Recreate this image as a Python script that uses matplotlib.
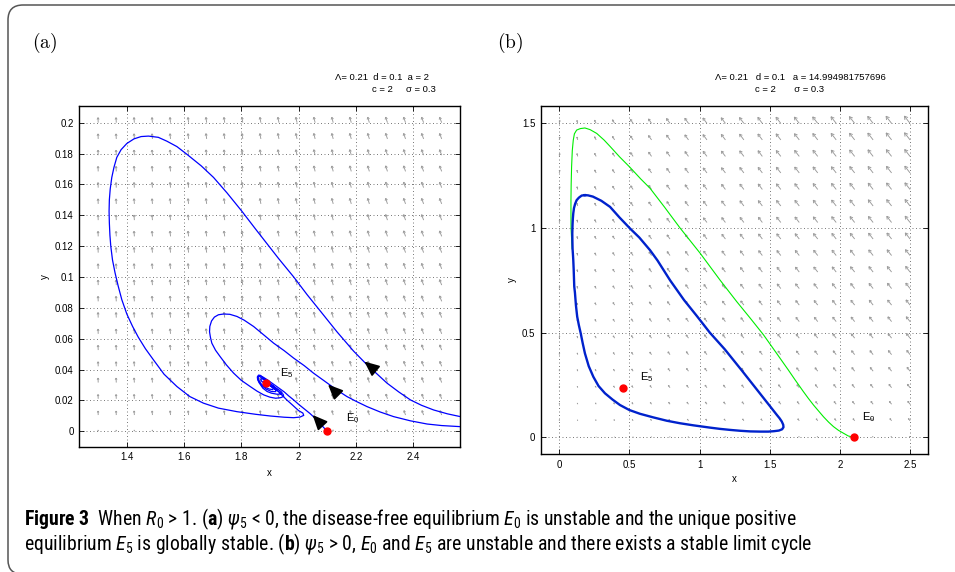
import numpy as np
import matplotlib
matplotlib.use('Agg')
import matplotlib.pyplot as plt
from matplotlib import font_manager
from matplotlib.path import Path
from matplotlib.patches import PathPatch
from matplotlib.collections import LineCollection
from matplotlib.transforms import IdentityTransform

# ---------------- data ----------------
# panel (a) trajectories
a_t1_x = [2.565, 2.520, 2.472, 2.430, 2.391, 2.350, 2.309, 2.275, 2.239, 2.192, 2.134, 2.080, 2.030, 1.983,
          1.930, 1.890, 1.850, 1.802, 1.750, 1.703, 1.660, 1.610, 1.575, 1.540, 1.510, 1.4755, 1.450, 1.425,
          1.400, 1.380, 1.365, 1.355, 1.3475, 1.342, 1.339, 1.338, 1.339, 1.341, 1.344, 1.350, 1.359, 1.370,
          1.3825, 1.400, 1.420, 1.440, 1.465, 1.493, 1.530, 1.575, 1.620, 1.668, 1.720, 1.785, 1.850, 1.901,
          1.950, 1.983, 2.005, 2.018, 2.015, 2.000, 1.980, 1.959, 1.935, 1.913, 1.895, 1.878, 1.867, 1.860,
          1.856, 1.857, 1.862, 1.875, 1.890, 1.905, 1.925, 1.940, 1.942, 1.930, 1.910, 1.895, 1.883, 1.872,
          1.868, 1.872, 1.882, 1.887]
a_t1_y = [0.0095, 0.0113, 0.0138, 0.0168, 0.0203, 0.0255, 0.0312, 0.0370, 0.0431, 0.0520, 0.0645, 0.0770,
          0.0885, 0.1000, 0.1120, 0.1215, 0.1310, 0.1426, 0.1545, 0.1645, 0.1720, 0.1795, 0.1845, 0.1880,
          0.1905, 0.1913, 0.1910, 0.1895, 0.1865, 0.1825, 0.1775, 0.1710, 0.1645, 0.1570, 0.1500, 0.1425,
          0.1350, 0.1270, 0.1199, 0.1110, 0.1026, 0.0940, 0.0853, 0.0760, 0.0680, 0.0610, 0.0535, 0.0463,
          0.0370, 0.0290, 0.0225, 0.0182, 0.0150, 0.0127, 0.0110, 0.0099, 0.0091, 0.0088, 0.0092, 0.0103,
          0.0118, 0.0134, 0.0168, 0.0203, 0.0247, 0.0290, 0.0320, 0.0344, 0.0362, 0.0364, 0.0352, 0.0335,
          0.0315, 0.0280, 0.0258, 0.0247, 0.0240, 0.0242, 0.0252, 0.0270, 0.0295, 0.0318, 0.0333, 0.0342,
          0.0335, 0.0322, 0.0312, 0.0310]
a_t2_x = [2.565, 2.500, 2.449, 2.390, 2.332, 2.285, 2.239, 2.200, 2.169, 2.140, 2.117, 2.085, 2.052, 2.020,
          1.983, 1.950, 1.913, 1.880, 1.843, 1.810, 1.785, 1.760, 1.738, 1.720, 1.706, 1.696, 1.690, 1.689,
          1.692, 1.697, 1.710, 1.726, 1.748, 1.773, 1.800, 1.831, 1.855, 1.878, 1.900, 1.920, 1.938, 1.948,
          1.946, 1.935, 1.915, 1.890, 1.875, 1.863, 1.857, 1.857, 1.862, 1.872, 1.888, 1.905, 1.920, 1.922,
          1.910, 1.895, 1.882, 1.876, 1.878, 1.887]
a_t2_y = [0.0030, 0.0037, 0.0047, 0.0068, 0.0095, 0.0125, 0.0160, 0.0195, 0.0225, 0.0260, 0.0290, 0.0333,
          0.0377, 0.0425, 0.0474, 0.0522, 0.0571, 0.0622, 0.0679, 0.0720, 0.0744, 0.0758, 0.0760, 0.0755,
          0.0740, 0.0715, 0.0680, 0.0645, 0.0610, 0.0571, 0.0525, 0.0484, 0.0430, 0.0377, 0.0330, 0.0290,
          0.0260, 0.0236, 0.0221, 0.0214, 0.0218, 0.0226, 0.0240, 0.0252, 0.0275, 0.0312, 0.0340, 0.0357,
          0.0352, 0.0340, 0.0320, 0.0295, 0.0272, 0.0258, 0.0257, 0.0268, 0.0285, 0.0305, 0.0320, 0.0322,
          0.0313, 0.0310]
a_t3_x = [2.100, 2.080, 2.058, 2.040, 2.020, 2.000, 1.983, 1.965, 1.950, 1.935, 1.920, 1.905, 1.890, 1.875,
          1.865, 1.859, 1.860, 1.868, 1.880, 1.897, 1.910, 1.912, 1.903, 1.890, 1.882, 1.881, 1.887]
a_t3_y = [0.0000, 0.0040, 0.0084, 0.0115, 0.0145, 0.0175, 0.0203, 0.0230, 0.0255, 0.0275, 0.0295, 0.0315,
          0.0335, 0.0352, 0.0360, 0.0352, 0.0335, 0.0310, 0.0288, 0.0274, 0.0270, 0.0278, 0.0292, 0.0308,
          0.0318, 0.0313, 0.0310]
# direction arrows on panel (a): (tail_x, tail_y, tip_x, tip_y)
a_arrows = [(2.262, 0.0403, 2.230, 0.0452),
            (2.128, 0.0257, 2.103, 0.0303),
            (2.076, 0.0052, 2.049, 0.0106)]
a_E0 = (2.1, 0.0)
a_E5 = (1.887, 0.031)

# panel (b) curves
b_cycle_x = [0.183, 0.160, 0.140, 0.124, 0.113, 0.105, 0.100, 0.097, 0.095, 0.093, 0.094, 0.095, 0.098,
             0.100, 0.103, 0.107, 0.112, 0.119, 0.128, 0.140, 0.153, 0.167, 0.183, 0.210, 0.243, 0.280,
             0.326, 0.380, 0.433, 0.500, 0.576, 0.670, 0.766, 0.860, 0.956, 1.075, 1.146, 1.220, 1.289,
             1.360, 1.432, 1.490, 1.530, 1.565, 1.588, 1.598, 1.596, 1.586, 1.571, 1.551, 1.500, 1.400,
             1.300, 1.180, 1.073, 0.980, 0.889, 0.790, 0.700, 0.647, 0.570, 0.504, 0.430, 0.362, 0.300,
             0.240, 0.205, 0.183]
b_cycle_y = [1.157, 1.155, 1.145, 1.133, 1.115, 1.095, 1.070, 1.045, 1.020, 0.974, 0.930, 0.900, 0.870,
             0.847, 0.800, 0.720, 0.690, 0.630, 0.576, 0.535, 0.497, 0.450, 0.401, 0.340, 0.289, 0.245,
             0.210, 0.180, 0.154, 0.130, 0.112, 0.095, 0.079, 0.067, 0.057, 0.046, 0.040, 0.035, 0.031,
             0.028, 0.027, 0.027, 0.029, 0.032, 0.038, 0.048, 0.060, 0.075, 0.090, 0.1065, 0.150, 0.235,
             0.320, 0.420, 0.500, 0.580, 0.656, 0.750, 0.845, 0.894, 0.955, 0.998, 1.050, 1.101, 1.130,
             1.150, 1.156, 1.157]
b_green_x = [2.097, 2.060, 2.026, 1.990, 1.954, 1.920, 1.883, 1.850, 1.812, 1.775, 1.740, 1.681, 1.633,
             1.550, 1.455, 1.360, 1.265, 1.146, 1.0035, 0.950, 0.861, 0.750, 0.647, 0.580, 0.504, 0.430,
             0.362, 0.320, 0.267, 0.220, 0.183, 0.150, 0.124, 0.108, 0.100, 0.093, 0.088, 0.085, 0.0835,
             0.0835, 0.084, 0.088, 0.092]
b_green_y = [0.000, 0.006, 0.019, 0.033, 0.051, 0.072, 0.098, 0.124, 0.154, 0.186, 0.218, 0.274, 0.321,
             0.400, 0.490, 0.570, 0.648, 0.751, 0.880, 0.925, 1.000, 1.100, 1.190, 1.235, 1.290, 1.340,
             1.390, 1.420, 1.452, 1.470, 1.478, 1.475, 1.468, 1.450, 1.420, 1.370, 1.292, 1.210, 1.133,
             1.060, 1.000, 0.950, 0.900]
b_E0 = (2.1, 0.0)
b_E5 = (0.4565, 0.234)

# direction-field grids
a_field_x = np.linspace(1.3, 2.5, 20)
a_field_y = np.linspace(0.0, 0.2, 20)
a_field_ang = [92, 93, 94, 95, 96, 97, 98, 99, 100, 101, 102, 103, 104, 105, 106, 107, 108, 109, 110, 111]
a_field_len_cols = [5.0, 5.0, 5.1, 5.1, 5.2, 5.2, 5.3, 5.3, 5.4, 5.4, 5.5, 5.5, 5.6, 5.6, 5.7, 5.7, 5.8, 5.8, 5.8, 5.8]
a_field_len_rows = [0.25, 0.8, 0.85, 0.9, 0.9, 0.95, 0.95, 1, 1, 1, 1, 1, 1, 1, 1, 1, 1, 1, 1, 1]

b_field_x = np.linspace(0.0, 2.5, 20)
b_field_y = np.linspace(0.0, 1.5, 20)
b_field_ang = [80, 105, 118, 122, 124, 125, 126, 126, 127, 127, 127, 127, 128, 128, 128, 128, 128, 128, 128, 128]
b_field_len_cols = [3.0, 3.0, 3.6, 4.2, 4.8, 5.4, 6.0, 6.3, 6.7, 7.0, 7.3, 7.5, 7.8, 8.0, 8.2, 8.4, 8.6, 8.8, 9.0, 9.2]
b_field_len_rows = [0.10, 0.30, 0.40, 0.47, 0.53, 0.58, 0.63, 0.67, 0.71, 0.75, 0.78, 0.81, 0.84, 0.87,
                    0.89, 0.91, 0.93, 0.95, 0.98, 1.00]

a_xticks = [1.4, 1.6, 1.8, 2.0, 2.2, 2.4]
a_xticklabels = ['1.4', '1.6', '1.8', '2', '2.2', '2.4']
a_yticks = [0, 0.02, 0.04, 0.06, 0.08, 0.1, 0.12, 0.14, 0.16, 0.18, 0.2]
a_yticklabels = ['0', '0.02', '0.04', '0.06', '0.08', '0.1', '0.12', '0.14', '0.16', '0.18', '0.2']
b_xticks = [0, 0.5, 1, 1.5, 2, 2.5]
b_xticklabels = ['0', '0.5', '1', '1.5', '2', '2.5']
b_yticks = [0, 0.5, 1, 1.5]
b_yticklabels = ['0', '0.5', '1', '1.5']

# ---------------- fonts ----------------
def _wnum(w):
    if isinstance(w, str):
        return font_manager.weight_dict.get(w, 400)
    return int(w)

_wname = {100: 'ultralight', 200: 'light', 300: 'light', 400: 'normal', 500: 'medium'}


def pick_caption_font():
    entries = font_manager.fontManager.ttflist
    for cand in ('Liberation Sans Narrow', 'Open Sans Condensed', 'Roboto Condensed',
                 'Noto Sans Condensed'):
        ws = sorted({_wnum(f.weight) for f in entries if f.name == cand and f.style == 'normal'})
        ok = [w for w in ws if 250 <= w <= 500]
        if ok:
            w = min(ok, key=lambda v: abs(v - 400))
            return cand, w
    return 'Open Sans', 400


cap_font, cap_w = pick_caption_font()
cap_wname = _wname.get(cap_w, 'normal')
plt.rcParams['font.family'] = ['Liberation Sans', 'DejaVu Sans']
plt.rcParams['mathtext.fontset'] = 'custom'
plt.rcParams['mathtext.rm'] = f'{cap_font}:{cap_wname}'
plt.rcParams['mathtext.it'] = f'{cap_font}:italic:{cap_wname}'
plt.rcParams['mathtext.bf'] = f'{cap_font}:bold'

W, H = 955, 572
fig = plt.figure(figsize=(W / 100, H / 100), dpi=100)
fig.patch.set_facecolor('white')


def px_axes(l, t, r, b):
    return fig.add_axes([l / W, 1 - b / H, (r - l) / W, (b - t) / H])


def style_axes(ax, xt, xtl, yt, ytl):
    ax.set_xticks(xt)
    ax.set_xticklabels(xtl)
    ax.set_yticks(yt)
    ax.set_yticklabels(ytl)
    ax.tick_params(direction='in', length=3.5, width=0.6, top=True, right=True,
                   labelsize=7, pad=4, colors='black')
    ax.grid(True, color='#777777', linestyle=(0, (1, 2.6)), linewidth=0.7)
    ax.set_axisbelow(True)
    for s in ax.spines.values():
        s.set_linewidth(1.0)
        s.set_color('black')


def draw_field(ax, gx, gy, angs, lcols, lrows, color):
    segs = []
    for i, x in enumerate(gx):
        th = np.deg2rad(angs[i])
        d = np.array([np.cos(th), np.sin(th)])
        for j, y in enumerate(gy):
            L = lcols[i] * lrows[j]
            p0 = ax.transData.transform((x, y))
            p1 = p0 + L * d
            segs.append([p0, p1])
            hl = 0.42 * L
            for s in (1, -1):
                a = th + np.pi + s * np.deg2rad(30)
                p2 = p1 + hl * np.array([np.cos(a), np.sin(a)])
                segs.append([p1, p2])
    inv = ax.transData.inverted()
    segs = [inv.transform(np.array(sg)) for sg in segs]
    ax.add_collection(LineCollection(segs, colors=color, linewidths=0.65, zorder=1))


# ---------------- panel (a) ----------------
axa = px_axes(79.3, 105.7, 460, 446.7)
axa.set_xlim(1.234, 2.564)
axa.set_ylim(-0.01, 0.211)
style_axes(axa, a_xticks, a_xticklabels, a_yticks, a_yticklabels)
draw_field(axa, a_field_x, a_field_y, a_field_ang, a_field_len_cols, a_field_len_rows, '#999999')
for xs, ys in ((a_t1_x, a_t1_y), (a_t2_x, a_t2_y), (a_t3_x, a_t3_y)):
    axa.plot(xs, ys, color='#0000ff', lw=0.9, zorder=3, solid_joinstyle='round')
for (x0, y0, x1, y1) in a_arrows:
    axa.annotate('', xy=(x1, y1), xytext=(x0, y0),
                 arrowprops=dict(arrowstyle='-|>,head_length=0.9,head_width=0.4', color='black',
                                 lw=1.2, shrinkA=0, shrinkB=0), zorder=5)
axa.plot(*a_E0, 'o', color='red', ms=5, zorder=6)
axa.plot(*a_E5, 'o', color='red', ms=5, zorder=6)
axa.text(2.165, 0.0084, r'E$_{\mathregular{0}}$', fontsize=8, ha='left', va='center')
axa.text(1.935, 0.0377, r'E$_{\mathregular{5}}$', fontsize=8, ha='left', va='center')
axa.set_xlabel('x', fontsize=7)
axa.set_ylabel('y', fontsize=7)
axa.xaxis.set_label_coords(0.5, -0.062)
axa.yaxis.set_label_coords(-0.077, 0.5)

# ---------------- panel (b) ----------------
axb = px_axes(541, 106, 928.3, 454)
axb.set_xlim(-0.13, 2.63)
axb.set_ylim(-0.08, 1.583)
style_axes(axb, b_xticks, b_xticklabels, b_yticks, b_yticklabels)
draw_field(axb, b_field_x, b_field_y, b_field_ang, b_field_len_cols, b_field_len_rows, '#999999')
axb.plot(b_green_x, b_green_y, color='#00ee00', lw=0.8, zorder=3, solid_joinstyle='round')
axb.plot(b_cycle_x, b_cycle_y, color='#0022cc', lw=1.7, zorder=4, solid_joinstyle='round')
axb.plot(*b_E0, 'o', color='red', ms=5, zorder=6)
axb.plot(*b_E5, 'o', color='red', ms=5, zorder=6)
axb.text(2.16, 0.098, r'E$_{\mathregular{0}}$', fontsize=8, ha='left', va='center')
axb.text(0.575, 0.287, r'E$_{\mathregular{5}}$', fontsize=8, ha='left', va='center')
axb.set_xlabel('x', fontsize=7)
axb.set_ylabel('y', fontsize=7)
axb.xaxis.set_label_coords(0.5, -0.058)
axb.yaxis.set_label_coords(-0.062, 0.5)

# ---------------- texts ----------------
def ftext(px, py, s, **kw):
    return fig.text(px / W, 1 - py / H, s, **kw)

ftext(32, 43, r'$\mathrm{(a)}$', fontsize=14, math_fontfamily='cm', va='center', ha='left')
ftext(497, 43, r'$\mathrm{(b)}$', fontsize=14, math_fontfamily='cm', va='center', ha='left')
ftext(335, 78, 'Λ= 0.21  d = 0.1  a = 2', fontsize=6.8, va='center', ha='left')
ftext(372, 90, 'c = 2     σ = 0.3', fontsize=6.8, va='center', ha='left')
ftext(715, 78, 'Λ= 0.21   d = 0.1   a = 14.994981757696', fontsize=6.8, va='center', ha='left')
ftext(755, 90, 'c = 2       σ = 0.3', fontsize=6.8, va='center', ha='left')

cap1 = (r'$\mathbf{Figure\ 3}$  When $R_0$ > 1. ($\mathbf{a}$) $\psi_5$ < 0, the disease-free '
        r'equilibrium $E_0$ is unstable and the unique positive')
cap2 = (r'equilibrium $E_5$ is globally stable. ($\mathbf{b}$) $\psi_5$ > 0, $E_0$ and $E_5$ are '
        r'unstable and there exists a stable limit cycle')
capkw = dict(family=cap_font, fontweight=cap_w, math_fontfamily='custom', ha='left')
t1 = ftext(24, 525, cap1, fontsize=12.0, va='baseline', **capkw)
t2 = ftext(24, 550, cap2, fontsize=12.0, va='baseline', **capkw)
# fit first caption line to the reference line length (24 px -> 812 px)
renderer = fig.canvas.get_renderer()
w1 = t1.get_window_extent(renderer).width
size = min(14.2, 12.0 * 788.0 / w1)
t1.set_fontsize(size)
t2.set_fontsize(size)

# ---------------- frame ----------------
verts = [(22, H - 574), (8, H - 574), (8, H - 560), (8, H - 20), (8, H - 5), (23, H - 5), (960, H - 5)]
codes = [Path.MOVETO, Path.CURVE3, Path.CURVE3, Path.LINETO, Path.CURVE3, Path.CURVE3, Path.LINETO]
frame = PathPatch(Path(verts, codes), facecolor='none', edgecolor='#555555', lw=1.1,
                  transform=IdentityTransform())
fig.add_artist(frame)

fig.savefig('out.png', dpi=100)
